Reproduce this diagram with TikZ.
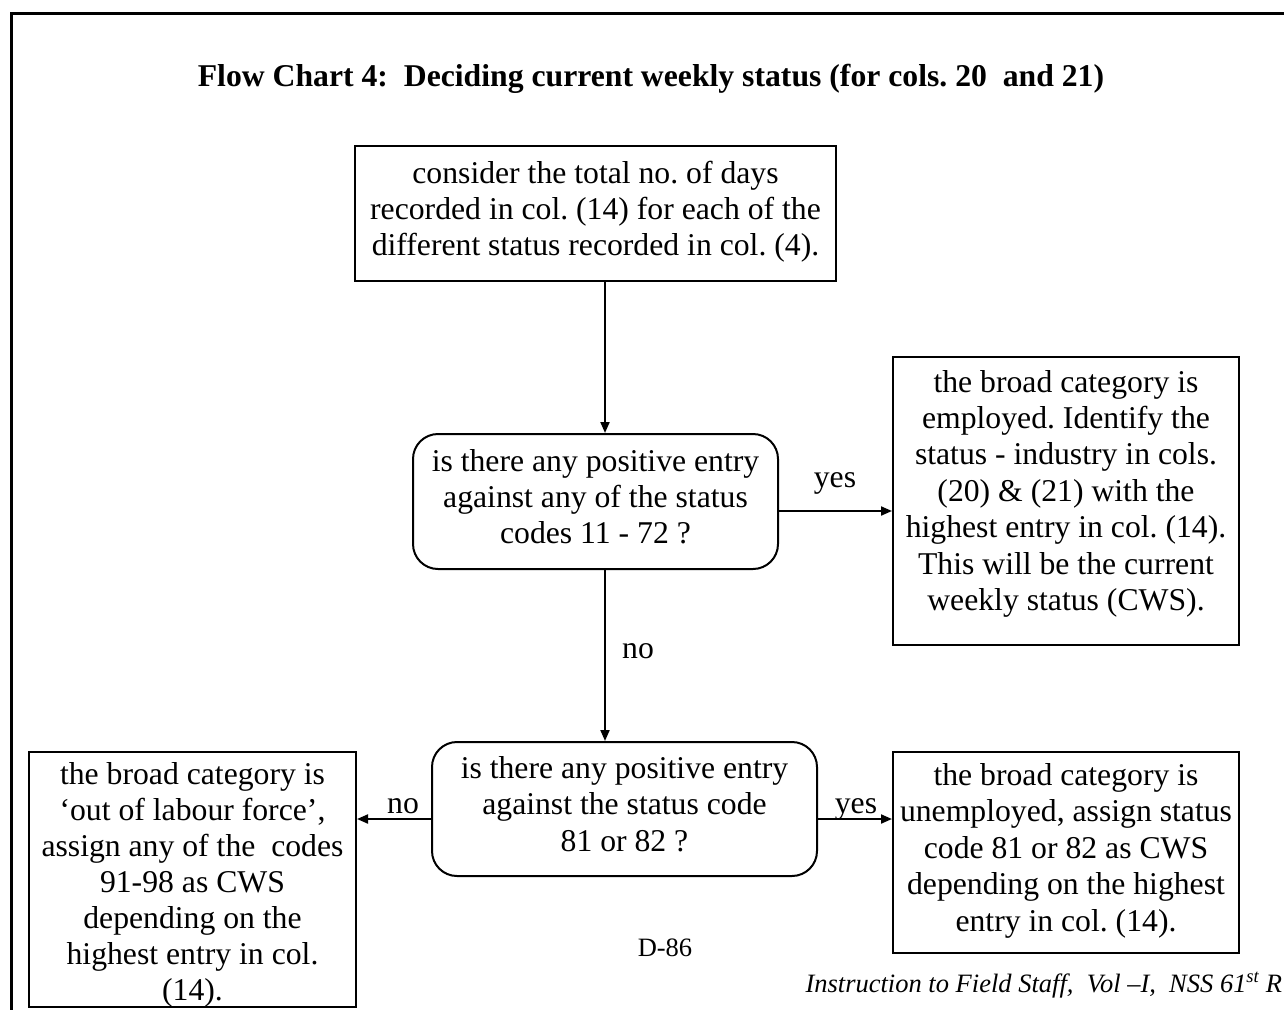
\documentclass[tikz,border=0pt]{standalone}
\usepackage{fontspec}
\setmainfont{Liberation Serif}
\usetikzlibrary{arrows.meta,calc}
\frenchspacing
\newcommand{\boxtxt}[4]{\parbox[c][#2][t]{#1}{\centering\fontsize{31.7}{36.4}\selectfont\rule{0pt}{#3}#4}}
\begin{document}
\begin{tikzpicture}[x=1pt,y=-1pt,
  body/.style={font=\fontsize{31.7}{36.4}\selectfont, align=center},
  box/.style={draw, line width=2pt, body, inner sep=0pt},
  dec/.style={box, rounded corners=25pt},
  arr/.style={line width=2pt, -{Triangle[length=11pt,width=9pt]}},
  lab/.style={body, inner sep=0pt}]
\useasboundingbox (0,0) rectangle (1284,1009);
\fill[white] (0,0) rectangle (1284,1009);
\draw[line width=3pt] (1290,13) -- (11,13) -- (11,1015);

\node[font=\fontsize{31.7}{36.4}\selectfont\bfseries, anchor=base] (title) at (651,86)
  {Flow Chart 4:\ \ Deciding current weekly status (for cols. 20\ \ and 21)};

\node[box] (start) at (595.5,213.5)
  {\boxtxt{481pt}{135pt}{37pt}{consider the total no. of days\\recorded in col. (14) for each of the\\different status recorded in col. (4).}};
\node[dec] (d1) at (595.5,501.5)
  {\boxtxt{365pt}{135pt}{37pt}{is there any positive entry\\against any of the status\\codes 11 - 72 ?}};
\node[box] (emp) at (1066,501)
  {\boxtxt{346pt}{288pt}{35pt}{the broad category is\\employed. Identify the\\status - industry in cols.\\(20) \& (21) with the\\highest entry in col. (14).\\This will be the current\\weekly status (CWS).}};
\node[dec] (d2) at (624.5,809)
  {\boxtxt{385pt}{134pt}{36.5pt}{is there any positive entry\\against the status code\\81 or 82 ?}};
\node[box] (olf) at (192.5,879.5)
  {\boxtxt{327pt}{255pt}{32.5pt}{\fontsize{31.7}{36}\selectfont the broad category is\\‘out of labour force’,\\assign any of the\ \ codes\\91-98 as CWS\\depending on the\\highest entry in col.\\(14).}};
\node[box] (unemp) at (1066,852.5)
  {\boxtxt{346pt}{201pt}{33.5pt}{the broad category is\\unemployed, assign status\\code 81 or 82 as CWS\\depending on the highest\\entry in col. (14).}};

\draw[arr] ([xshift=9.5pt]start.south) -- ([xshift=9.5pt]d1.north);
\draw[arr] ([yshift=-9.5pt]d1.east) -- ([yshift=-9.5pt]d1.east -| emp.west);
\draw[arr] ([xshift=9.5pt]d1.south) -- ([xshift=9.5pt]d1.south |- d2.north);
\draw[arr] ([yshift=-10pt]d2.west) -- ([yshift=-10pt]d2.west -| olf.east);
\draw[arr] ([yshift=-10pt]d2.east) -- ([yshift=-10pt]d2.east -| unemp.west);

\node[lab] (yes1) at (835,483) {yes};
\node[lab] (no1) at (638,651) {no};
\node[lab] (no2) at (403,806) {no};
\node[lab] (yes2) at (856,809) {yes};

\node[font=\fontsize{26.5}{30}\selectfont] (page) at (665,948) {D-86};
\node[font=\fontsize{26.5}{30}\selectfont\itshape, anchor=base west] (foot) at (802,992)
  {Instruction to Field Staff,\ \ Vol –I,\ \ NSS 61\textsuperscript{st} R};
\end{tikzpicture}
\end{document}
